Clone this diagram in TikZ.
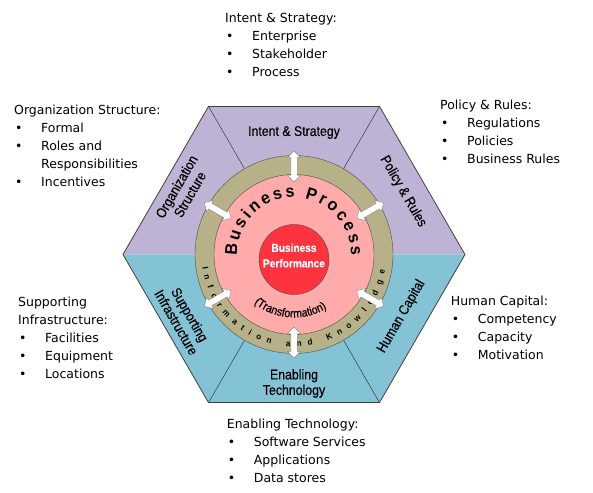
\documentclass[tikz,border=0pt]{standalone}
\usepackage{fontspec}
\setmainfont{DejaVu Sans}
\newfontfamily\labelfont[FakeStretch=0.88, FakeBold=0.4]{Liberation Sans}
\newfontfamily\ringfont[FakeStretch=0.95]{Liberation Sans}
\usetikzlibrary{
	shapes.arrows,
	decorations.text
}
\definecolor{hexpurple}{RGB}{191,179,213}
\definecolor{hexblue}{RGB}{131,195,213}
\definecolor{ringtan}{RGB}{183,177,137}
\definecolor{processpink}{RGB}{255,171,171}
\definecolor{corered}{RGB}{253,51,64}
\newcommand{\itemdot}{\makebox[27pt][l]{\hspace{1pt}\textbullet}}
\tikzset{
	outertext/.style={anchor=north west, align=left, inner sep=0pt, font=\fontsize{12.5}{18}\selectfont},
	segmentlabel/.style={align=center, inner sep=0pt, font=\labelfont\fontsize{14}{15.5}\selectfont},
	coretext/.style={align=center, inner sep=0pt, text=white, font=\labelfont\bfseries\fontsize{11.5}{15.5}\selectfont},
	flowarrow/.style={double arrow, draw=black!45, fill=white, inner sep=3pt, minimum height=31pt, double arrow head extend=3.5pt},
	spoke/.style={thin, black!85},
	disc/.style={draw=black!70, thin}
}

\begin{document}
\begin{tikzpicture}[x=1pt, y=1pt]
	\useasboundingbox (-294,-237.5) rectangle (299,254.5);

	\fill[hexpurple] (0:171) -- (60:171) -- (120:171) -- (180:171) -- cycle;
	\fill[hexblue] (180:171) -- (240:171) -- (300:171) -- (360:171) -- cycle;
	\coordinate (hexcenter) at (0,0);
	\draw[spoke] (60:171) -- (hexcenter);
	\draw[spoke] (120:171) -- (hexcenter);
	\draw[spoke] (240:171) -- (hexcenter);
	\draw[spoke] (300:171) -- (hexcenter);
	\draw[black!75, line width=0.8pt] (0:171) -- (60:171) -- (120:171) -- (180:171) -- (240:171) -- (300:171) -- cycle;

	\node[segmentlabel] (intent) at (90:122) {Intent \& Strategy};
	\node[segmentlabel, rotate=-60] (policy) at (30:126) {Policy \& Rules};
	\node[segmentlabel, rotate=60] (organization) at (150:128) {Organization\\Structure};
	\node[segmentlabel, rotate=-60] (supporting) at (210:128) {Supporting\\Infrastructure};
	\node[segmentlabel] (enabling) at (270:129) {Enabling\\Technology};
	\node[segmentlabel, rotate=60] (human) at (330:124) {Human Capital};

	\fill[ringtan, disc] (hexcenter) circle[radius=99];
	\fill[processpink, disc] (hexcenter) circle[radius=80];
	\fill[corered, disc] (0,-5) circle[radius=35];
	\node[coretext] (performance) at (0,-1) {Business\\Performance};

	\path[decorate, decoration={text along path, text align={fit to path},
		text={|\ringfont\bfseries\fontsize{17}{17}\selectfont|Business Process}}]
		(181:57) arc[start angle=181, end angle=-1, radius=57];
	\path[decorate, decoration={text along path, text align=center,
		text={|\labelfont\fontsize{12}{12}\selectfont|(Transformation)}}]
		(196:63) arc[start angle=196, end angle=336, radius=63];
	\path[decorate, decoration={text along path, text align={fit to path},
		text={|\ringfont\bfseries\fontsize{8.5}{8.5}\selectfont|Information and Knowledge}}]
		(188:92.5) arc[start angle=188, end angle=350, radius=92.5];

	\node[flowarrow, rotate=90] (arrowintent) at (90:88) {};
	\node[flowarrow, rotate=30] (arrowpolicy) at (30:88) {};
	\node[flowarrow, rotate=150] (arroworganization) at (150:88) {};
	\node[flowarrow, rotate=210] (arrowsupporting) at (210:88) {};
	\node[flowarrow, rotate=270] (arrowenabling) at (270:88) {};
	\node[flowarrow, rotate=330] (arrowhuman) at (330:88) {};

	\node[outertext] (intentlist) at (-69,241) {Intent \& Strategy:\\\itemdot Enterprise\\\itemdot Stakeholder\\\itemdot Process};
	\node[outertext] (organizationlist) at (-280,149.7) {Organization Structure:\\\itemdot Formal\\\itemdot Roles and\\\hspace*{27pt}Responsibilities\\\itemdot Incentives};
	\node[outertext] (policylist) at (146,154.4) {Policy \& Rules:\\\itemdot Regulations\\\itemdot Policies\\\itemdot Business Rules};
	\node[outertext] (supportinglist) at (-276,-42) {Supporting\\Infrastructure:\\\itemdot Facilities\\\itemdot Equipment\\\itemdot Locations};
	\node[outertext] (humanlist) at (156.7,-41.3) {Human Capital:\\\itemdot Competency\\\itemdot Capacity\\\itemdot Motivation};
	\node[outertext] (enablinglist) at (-67.3,-164) {Enabling Technology:\\\itemdot Software Services\\\itemdot Applications\\\itemdot Data stores};
\end{tikzpicture}
\end{document}
